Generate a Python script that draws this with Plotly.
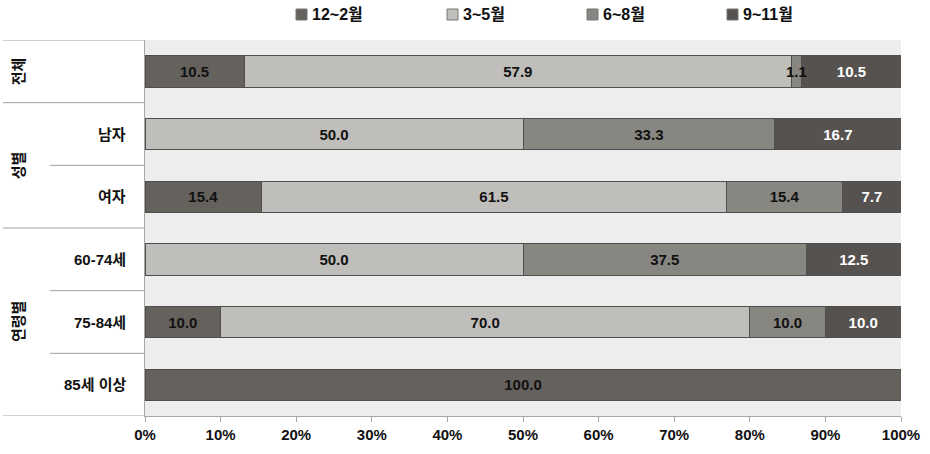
import plotly.graph_objects as go

# ---- data ----
row_labels = ["", "남자", "여자", "60-74세", "75-84세", "85세 이상"]
group_labels = ["전체", "성별", "연령별"]
group_centers = [0, 1.5, 4]          # row index centre of each group
seasons = ["12~2월", "3~5월", "6~8월", "9~11월"]
v_winter = [10.5, 0, 15.4, 0, 10.0, 100.0]
v_spring = [57.9, 50.0, 61.5, 50.0, 70.0, 0]
v_summer = [1.1, 33.3, 15.4, 37.5, 10.0, 0]
v_autumn = [10.5, 16.7, 7.7, 12.5, 10.0, 0]
tick_vals = [0, 10, 20, 30, 40, 50, 60, 70, 80, 90, 100]
tick_text = [f"{v}%" for v in tick_vals]

colors = ["#65625d", "#c0beba", "#888680", "#56524f"]
text_colors = ["#111111", "#111111", "#111111", "#ffffff"]
FONT = "Liberation Sans, Arial, Noto Sans CJK KR, sans-serif"

W, H = 930, 454
L, R, T, B = 145, 29, 40, 38
pw = W - L - R
ph = H - T - B

series = [v_winter, v_spring, v_summer, v_autumn]
rows = list(range(len(row_labels)))
totals = [sum(s[i] for s in series) for i in rows]
SMALL = 3.0  # percent share below which the label is drawn as an overlay

fig = go.Figure()
ann = []
for k, (name, vals, col, tcol) in enumerate(zip(seasons, series, colors, text_colors)):
    texts = []
    for i, v in enumerate(vals):
        pct = v / totals[i] * 100
        if v <= 0:
            texts.append("")
        elif pct < SMALL:
            texts.append("")
            before = sum(series[j][i] for j in range(k)) / totals[i] * 100
            ann.append(dict(text=f"{v:.1f}", xref="x", yref="y", x=before + pct / 2, y=i,
                            showarrow=False, xanchor="center", yanchor="middle",
                            font=dict(family=FONT, size=15, color="#111111", weight="bold")))
        else:
            texts.append(f"{v:.1f}")
    fig.add_trace(go.Bar(
        name=name, y=rows, x=vals, orientation="h", width=0.5,
        marker=dict(color=col, line=dict(color="#4f4f4f", width=1)),
        text=texts,
        textposition="inside", insidetextanchor="middle", textangle=0,
        textfont=dict(family=FONT, size=15, color=tcol, weight="bold"),
        showlegend=False, hoverinfo="skip",
    ))

shapes = []
lc = "#a0a0a0"
# left table lines
for yv in [-0.5, 0.5, 2.5, 5.5]:
    shapes.append(dict(type="line", xref="paper", yref="y", x0=-142 / pw, x1=0, y0=yv, y1=yv,
                       line=dict(color=lc, width=1)))
for yv in [1.5, 3.5, 4.5]:
    shapes.append(dict(type="line", xref="paper", yref="y", x0=-95 / pw, x1=0, y0=yv, y1=yv,
                       line=dict(color=lc, width=1)))
for lab, yc in zip(group_labels, group_centers):
    ann.append(dict(text=lab, xref="paper", yref="y", x=-127 / pw, y=yc, textangle=-90,
                    showarrow=False, xanchor="center", yanchor="middle",
                    font=dict(family=FONT, size=15, color="#111111", weight="bold")))
for lab, yv in zip(row_labels, rows):
    if lab:
        ann.append(dict(text=lab, xref="paper", yref="y", x=-17 / pw, y=yv, showarrow=False,
                        xanchor="right", yanchor="middle",
                        font=dict(family=FONT, size=15, color="#111111", weight="bold")))

# custom legend
leg_x = [296, 447, 587, 727]
for name, col, px in zip(seasons, colors, leg_x):
    x0 = (px - L) / pw
    x1 = (px + 11 - L) / pw
    y0 = 1 + (T - 20) / ph
    y1 = 1 + (T - 9) / ph
    shapes.append(dict(type="rect", xref="paper", yref="paper", x0=x0, x1=x1, y0=y0, y1=y1,
                       fillcolor=col, line=dict(color="#777777", width=1)))
    ann.append(dict(text=name, xref="paper", yref="paper", x=(px + 14 - L) / pw,
                    y=1 + (T - 14) / ph, showarrow=False, xanchor="left", yanchor="middle",
                    font=dict(family=FONT, size=16, color="#111111", weight="bold")))

fig.update_layout(
    width=W, height=H, margin=dict(l=L, r=R, t=T, b=B, autoexpand=False),
    barmode="stack", barnorm="percent",
    plot_bgcolor="#ededed", paper_bgcolor="#ffffff",
    uniformtext=dict(minsize=15, mode="show"),
    shapes=shapes, annotations=ann,
    xaxis=dict(range=[0, 100], tickmode="array", tickvals=tick_vals, ticktext=tick_text,
               showgrid=False, showline=True, linecolor="#a6a6a6", linewidth=1,
               ticks="outside", ticklen=5, tickcolor="#a6a6a6", automargin=False,
               tickfont=dict(family=FONT, size=15, color="#111111", weight="bold"),
               zeroline=False, fixedrange=True),
    yaxis=dict(range=[5.5, -0.5], showticklabels=False, showgrid=False, zeroline=False,
               showline=True, linecolor="#a6a6a6", linewidth=1, ticks="", automargin=False),
)

fig.write_html("out.html")
